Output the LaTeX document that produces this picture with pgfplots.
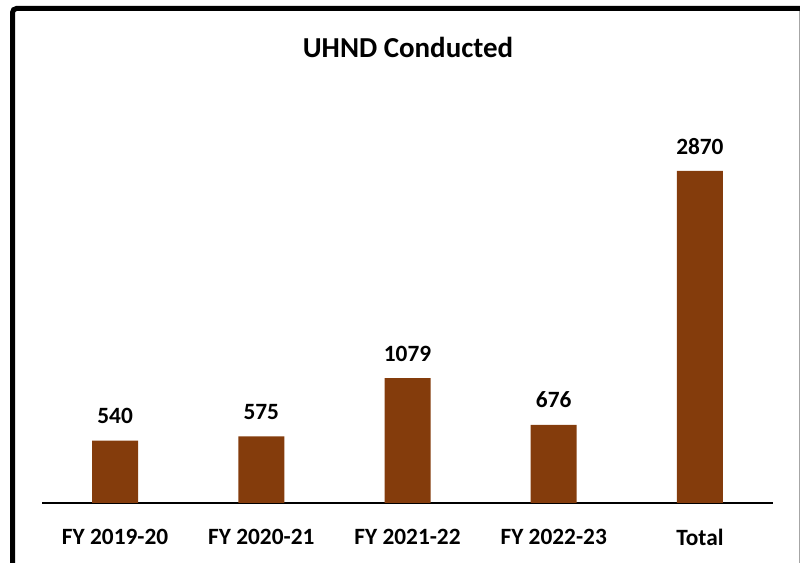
\documentclass[border=0pt]{standalone}
\usepackage{pgfplots}
\pgfplotsset{compat=1.18}
\usepackage{fontspec}
\setmainfont{Carlito}
\definecolor{barbrown}{HTML}{843C0C}
\begin{document}
\begin{tikzpicture}[x=0.75pt,y=0.75pt]
% page: 800 x 563 px, y measured from bottom
\path[use as bounding box] (0,0) rectangle (800,563);
\draw[line width=3.75pt, line cap=butt, rounded corners=3pt] (12.5,0) -- (12.5,554.5) -- (800,554.5);
\draw[gray!70, line width=0.75pt] (799.4,552) -- (799.4,0);
\begin{axis}[
  at={(31.5pt,45pt)}, anchor=south west,
  scale only axis,
  width=548.25pt, height=260.3pt,
  xmin=-0.5, xmax=4.5, ymin=0, ymax=3000,
  axis x line*=bottom, axis y line=none,
  axis line style={black, line width=1pt},
  xtick={0,1,2,3,4},
  xticklabels={FY 2019-20, FY 2020-21, FY 2021-22, FY 2022-23, Total},
  xtick style={draw=none},
  xticklabel style={font=\fontsize{17.5}{20}\selectfont\bfseries, yshift=-11.6pt},
  ytick=\empty,
  ybar, bar width=34.5pt,
  nodes near coords,
  every node near coord/.append style={font=\fontsize{17.5}{20}\selectfont\bfseries, yshift=9pt, black},
  /pgf/number format/assume math mode=true,
  /pgf/number format/1000 sep={},
  clip=false,
]
\addplot[fill=barbrown, draw=none] coordinates {(0,540) (1,575) (2,1079) (3,676) (4,2870)};
\end{axis}
\node[font=\fontsize{21.7}{25}\selectfont\bfseries] at (408,516) {UHND Conducted};
\end{tikzpicture}
\end{document}
